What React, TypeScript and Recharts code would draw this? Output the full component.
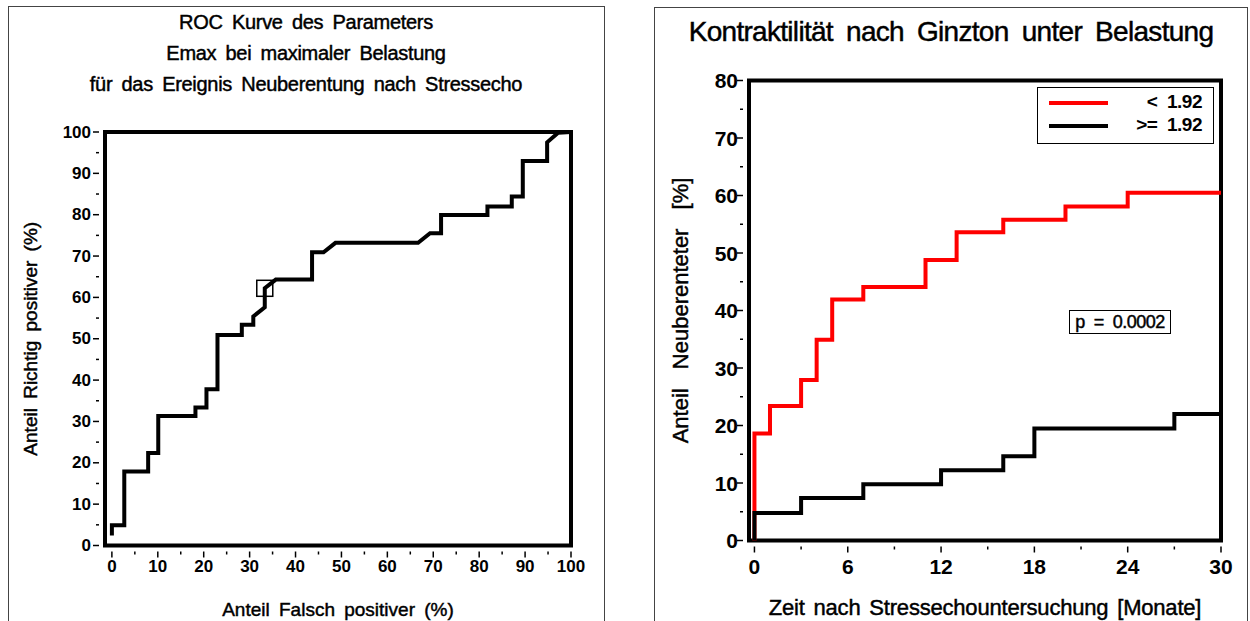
import React from "react";
import {
  LineChart,
  Line,
  XAxis,
  YAxis,
  ReferenceArea,
  ReferenceDot,
  Legend,
} from "recharts";

// ROC-Kurve: Falsch positive / Richtig positive (%)
const fpr = [0, 0, 2.7, 2.7, 7.9, 7.9, 10.1, 10.1, 18.2, 18.2, 20.6, 20.6, 23.0, 23.0, 28.3, 28.3, 30.8, 30.8, 33.3, 33.3, 35.7, 43.6, 43.6, 46.1, 48.7, 66.7, 69.3, 71.7, 71.7, 81.8, 81.8, 87.1, 87.1, 89.5, 89.5, 94.8, 94.8, 97.2, 100];
const tpr = [2.4, 4.9, 4.9, 17.9, 17.9, 22.4, 22.4, 31.3, 31.3, 33.4, 33.4, 37.8, 37.8, 50.9, 50.9, 53.4, 53.4, 55.4, 57.6, 62.2, 64.3, 64.3, 70.9, 70.9, 73.2, 73.2, 75.5, 75.5, 79.9, 79.9, 82.0, 82.0, 84.4, 84.4, 93.0, 93.0, 97.5, 99.8, 100];
const cutoffPoint = { fpr: 33.3, tpr: 62.2 };
const rocTicks = [0, 5, 10, 15, 20, 25, 30, 35, 40, 45, 50, 55, 60, 65, 70, 75, 80, 85, 90, 95, 100];

// Kaplan-Meier: Anteil Neuberenteter [%]
const monthsLow = [0, 0, 1, 3, 4, 5, 7, 11, 13, 16, 20, 24, 30];
const rateLow = [0, 18.6, 23.4, 27.9, 34.9, 41.9, 44.1, 48.8, 53.6, 55.8, 58.1, 60.5, 60.5];
const monthsHigh = [0, 0, 3, 7, 12, 16, 18, 27, 30];
const rateHigh = [0, 4.8, 7.4, 9.8, 12.2, 14.65, 19.5, 22.0, 22.0];
const monthTicks = [0, 3, 6, 9, 12, 15, 18, 21, 24, 27, 30];
const rateTicks = [0, 5, 10, 15, 20, 25, 30, 35, 40, 45, 50, 55, 60, 65, 70, 75, 80];
const seriesNames = ["<  1.92", ">=  1.92"];
const seriesColors = ["#ff0000", "#000000"];
const pValue = "p  =  0.0002";

const rocData = fpr.map((x, i) => ({ x, y: tpr[i] }));
const lowData = monthsLow.map((x, i) => ({ x, y: rateLow[i] }));
const highData = monthsHigh.map((x, i) => ({ x, y: rateHigh[i] }));

const FONT = "'Liberation Sans', Arial, Helvetica, sans-serif";
// SAS-Schrift wirkt etwas fetter
const heavy: React.CSSProperties = { WebkitTextStroke: "0.45px #000" } as any;

const makeYTick = (step: number, size: number, gap: number) => (props: any) => {
  const { x, y, payload } = props;
  const major = payload.value % step === 0;
  return (
    <g>
      <line x1={x - (major ? 6 : 3)} x2={x} y1={y} y2={y} stroke="#000" strokeWidth={1.5} />
      {major && (
        <text x={x - gap} y={y} textAnchor="end" dominantBaseline="central" fontSize={size} fontWeight="bold" fontFamily={FONT} fill="#000">
          {payload.value}
        </text>
      )}
    </g>
  );
};

const makeXTick = (step: number, size: number, gap: number) => (props: any) => {
  const { x, y, payload } = props;
  const major = payload.value % step === 0;
  return (
    <g>
      <line x1={x} x2={x} y1={y} y2={y + (major ? 6 : 3)} stroke="#000" strokeWidth={1.5} />
      {major && (
        <text x={x} y={y + gap} textAnchor="middle" dominantBaseline="central" fontSize={size} fontWeight="bold" fontFamily={FONT} fill="#000">
          {payload.value}
        </text>
      )}
    </g>
  );
};

const panelStyle = (left: number, top: number, width: number): React.CSSProperties => ({
  position: "absolute",
  left,
  top,
  width,
  height: 640,
  border: "1.5px solid #444",
  boxSizing: "border-box",
});

function KmLegend() {
  return (
    <div style={{ border: "1px solid #000", width: 177, height: 57, boxSizing: "border-box", background: "#fff", fontFamily: FONT }}>
      {seriesNames.map((name, i) => (
        <div key={name} style={{ position: "relative", height: 23, marginTop: i === 0 ? 3 : 0 }}>
          <div style={{ position: "absolute", left: 11, top: 10, width: 59, height: 4, background: seriesColors[i] }} />
          <div style={{ position: "absolute", right: 11, top: 0, fontSize: 19, fontWeight: "bold", whiteSpace: "pre", letterSpacing: -0.5 }}>
            {name}
          </div>
        </div>
      ))}
    </div>
  );
}

export default function App() {
  return (
    <div style={{ position: "absolute", left: 0, top: 0, width: 1250, height: 621, background: "#fff", overflow: "hidden", fontFamily: FONT }}>
      <div style={panelStyle(8, 6, 597)} />
      <div style={panelStyle(654, 7, 594)} />

      {/* linke Grafik: ROC */}
      <div style={{ position: "absolute", left: 0, top: 7, width: 612, textAlign: "center", fontSize: 20, lineHeight: "31px", wordSpacing: 4, letterSpacing: -0.3, ...heavy }}>
        <div>ROC Kurve des Parameters</div>
        <div>Emax bei maximaler Belastung</div>
        <div>für das Ereignis Neuberentung nach Stressecho</div>
      </div>
      <div style={{ position: "absolute", left: 0, top: 0 }}>
        <LineChart width={620} height={621} margin={{ top: 132, right: 49, left: 0, bottom: 0 }}>
          <XAxis
            type="number"
            dataKey="x"
            domain={[-1.5, 100]}
            ticks={rocTicks}
            interval={0}
            allowDataOverflow
            axisLine={false}
            tickLine={false}
            tickMargin={0}
            height={75.5}
            tick={makeXTick(10, 17, 15)}
            label={{ value: "Anteil Falsch positiver (%)", position: "insideBottom", offset: 5, fontSize: 19, fill: "#000", fontFamily: FONT, style: { wordSpacing: 4, stroke: "#000", strokeWidth: 0.45 } }}
          />
          <YAxis
            type="number"
            dataKey="y"
            domain={[0, 100]}
            ticks={rocTicks}
            interval={0}
            axisLine={false}
            tickLine={false}
            tickMargin={0}
            width={105}
            tick={makeYTick(10, 17, 8)}
            label={{ value: "Anteil Richtig positiver (%)", angle: -90, position: "insideLeft", offset: 30, fontSize: 19, fill: "#000", fontFamily: FONT, style: { textAnchor: "middle", wordSpacing: 4, stroke: "#000", strokeWidth: 0.45 } }}
          />
          <ReferenceArea x1={-1.5} x2={100} y1={0} y2={100} fill="none" stroke="#000" strokeWidth={4} ifOverflow="visible" />
          <Line data={rocData} dataKey="y" type="linear" stroke="#000" strokeWidth={4} dot={false} strokeLinejoin="miter" isAnimationActive={false} />
          <ReferenceDot
            x={cutoffPoint.fpr}
            y={cutoffPoint.tpr}
            r={8}
            shape={(p: any) => <rect x={p.cx - 8} y={p.cy - 8} width={16} height={16} fill="none" stroke="#000" strokeWidth={1.5} />}
          />
        </LineChart>
      </div>

      {/* rechte Grafik: Kaplan-Meier */}
      <div style={{ position: "absolute", left: 654, top: 14, width: 594, textAlign: "center", fontSize: 28, lineHeight: "36px", wordSpacing: 6, letterSpacing: -0.7, ...heavy }}>
        Kontraktilität nach Ginzton unter Belastung
      </div>
      <div style={{ position: "absolute", left: 640, top: 0 }}>
        <LineChart width={610} height={621} margin={{ top: 80.5, right: 29, left: 0, bottom: 0 }}>
          <XAxis
            type="number"
            dataKey="x"
            domain={[-0.35, 30]}
            ticks={monthTicks}
            interval={0}
            allowDataOverflow
            axisLine={false}
            tickLine={false}
            tickMargin={0}
            height={80.5}
            tick={makeXTick(6, 21, 20)}
            label={{ value: "Zeit nach Stressechountersuchung [Monate]", position: "insideBottom", offset: 6, fontSize: 22, fill: "#000", fontFamily: FONT, style: { wordSpacing: 3, letterSpacing: -0.2, stroke: "#000", strokeWidth: 0.45 } }}
          />
          <YAxis
            type="number"
            dataKey="y"
            domain={[0, 80]}
            ticks={rateTicks}
            interval={0}
            axisLine={false}
            tickLine={false}
            tickMargin={0}
            width={109}
            tick={makeYTick(10, 21, 5)}
            label={{ value: "Anteil Neuberenteter [%]", angle: -90, position: "insideLeft", offset: 40, fontSize: 22, fill: "#000", fontFamily: FONT, style: { textAnchor: "middle", wordSpacing: 13, stroke: "#000", strokeWidth: 0.45 } }}
          />
          <ReferenceArea x1={-0.35} x2={30} y1={0} y2={80} fill="none" stroke="#000" strokeWidth={4} ifOverflow="visible" />
          <Line data={lowData} dataKey="y" name={seriesNames[0]} type="stepAfter" stroke={seriesColors[0]} strokeWidth={4} dot={false} strokeLinejoin="miter" isAnimationActive={false} />
          <Line data={highData} dataKey="y" name={seriesNames[1]} type="stepAfter" stroke={seriesColors[1]} strokeWidth={4} dot={false} strokeLinejoin="miter" isAnimationActive={false} />
          <Legend
            layout="horizontal"
            verticalAlign="middle"
            align="center"
            content={() => <KmLegend />}
            wrapperStyle={{ position: "absolute", left: 397, top: 87, width: 177, height: 57 }}
          />
        </LineChart>
      </div>
      <div style={{ position: "absolute", left: 1069, top: 310, width: 102, height: 24, border: "1px solid #000", boxSizing: "border-box", fontSize: 18, lineHeight: "22px", whiteSpace: "pre", textAlign: "center", letterSpacing: -0.5, ...heavy }}>
        {pValue}
      </div>
    </div>
  );
}
